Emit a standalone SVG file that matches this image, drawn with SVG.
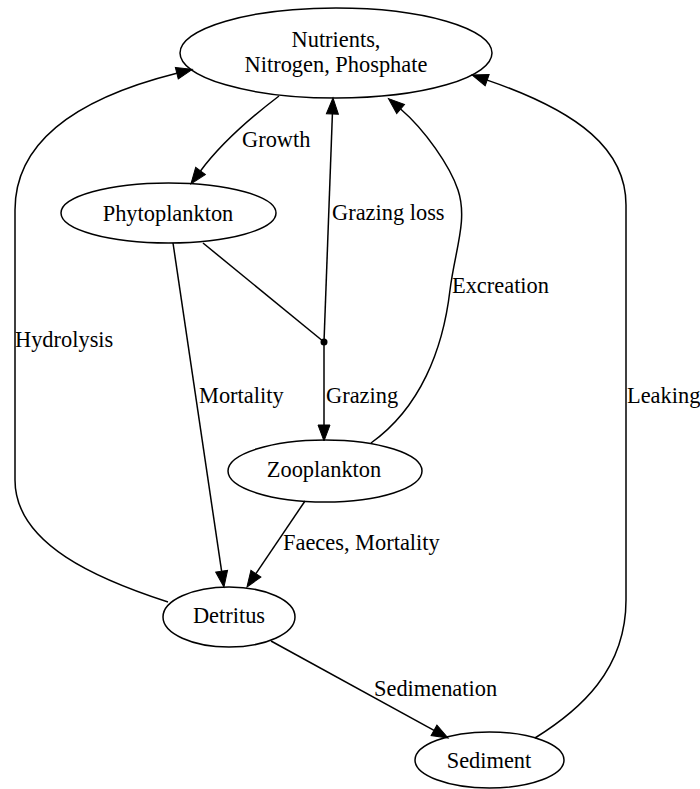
<svg xmlns="http://www.w3.org/2000/svg" width="700" height="789" viewBox="0 0 700 789">
<style>
  .node ellipse { fill: none; stroke: #000; stroke-width: 1.5; }
  .node text { font-size: 22.4px; text-anchor: middle; fill: #000; }
  .edges path { fill: none; stroke: #000; stroke-width: 1.5; }
  .edges path.arrow { marker-end: url(#ah); }
  .label { font-size: 22.4px; fill: #000; }
</style>
<defs>
  <marker id="ah" markerUnits="userSpaceOnUse" markerWidth="18" markerHeight="14" refX="0" refY="7" orient="auto" overflow="visible">
    <path d="M0,1 L16,7 L0,13 z" fill="#000" stroke="#000" stroke-width="1"/>
  </marker>
</defs>
<rect width="700" height="789" fill="#fff"/>
<g id="edges" class="edges" font-family="'Liberation Serif', 'Times New Roman', Tinos, 'DejaVu Serif', serif">
  <path id="e-growth" class="arrow" d="M279,96 C 258,112 225,138 200.5,171"/>
  <path id="e-grazingloss" class="arrow" d="M324,342 L332.4,114"/>
  <path id="e-excreation" class="arrow" d="M371,443 C 420,408 443,350 450,290 C 455,250 468,220 458,190 C 450,166 425,130 400.6,109"/>
  <path id="e-hydrolysis" class="arrow" d="M168,602 C 100,580 15,545 15,480 L15,210 C 15,135 90,95 176.8,73.2"/>
  <path id="e-leaking" class="arrow" d="M535,738 C 580,710 626,670 626,600 L626,205 C 626,150 580,112 487.2,80.1"/>
  <path id="e-phyto-point" d="M203,243 L324,342"/>
  <path id="e-grazing" class="arrow" d="M324,342 L324,425"/>
  <path id="e-mortality" class="arrow" d="M173,243 L221.6,571.2"/>
  <path id="e-faeces" class="arrow" d="M305,501 L255.9,573.7"/>
  <path id="e-sedimenation" class="arrow" d="M271,641 L434,730.3"/>
  <text class="label" x="242" y="147">Growth</text>
  <text class="label" x="332" y="220">Grazing loss</text>
  <text class="label" x="452" y="293">Excreation</text>
  <text class="label" x="15" y="347">Hydrolysis</text>
  <text class="label" x="199" y="403">Mortality</text>
  <text class="label" x="326" y="403">Grazing</text>
  <text class="label" x="627" y="403">Leaking</text>
  <text class="label" x="283" y="550">Faeces, Mortality</text>
  <text class="label" x="374" y="696">Sedimenation</text>
</g>
<g id="nodes" font-family="'Liberation Serif', 'Times New Roman', Tinos, 'DejaVu Serif', serif">
<g id="node-nutrients" class="node">
  <ellipse cx="336" cy="53" rx="156" ry="45"/>
  <text x="336" y="47">Nutrients,</text>
  <text x="336" y="72">Nitrogen, Phosphate</text>
</g>
<g id="node-phytoplankton" class="node">
  <ellipse cx="168.5" cy="213" rx="107.5" ry="30"/>
  <text x="168" y="221">Phytoplankton</text>
</g>
<g id="node-point" class="node">
  <circle cx="324" cy="342" r="3.5" fill="#000"/>
</g>
<g id="node-zooplankton" class="node">
  <ellipse cx="325" cy="471" rx="97" ry="31"/>
  <text x="324" y="477">Zooplankton</text>
</g>
<g id="node-detritus" class="node">
  <ellipse cx="229" cy="617" rx="66" ry="30"/>
  <text x="229" y="623">Detritus</text>
</g>
<g id="node-sediment" class="node">
  <ellipse cx="489.5" cy="760" rx="74.5" ry="28"/>
  <text x="489" y="768">Sediment</text>
</g>
</g>
</svg>
